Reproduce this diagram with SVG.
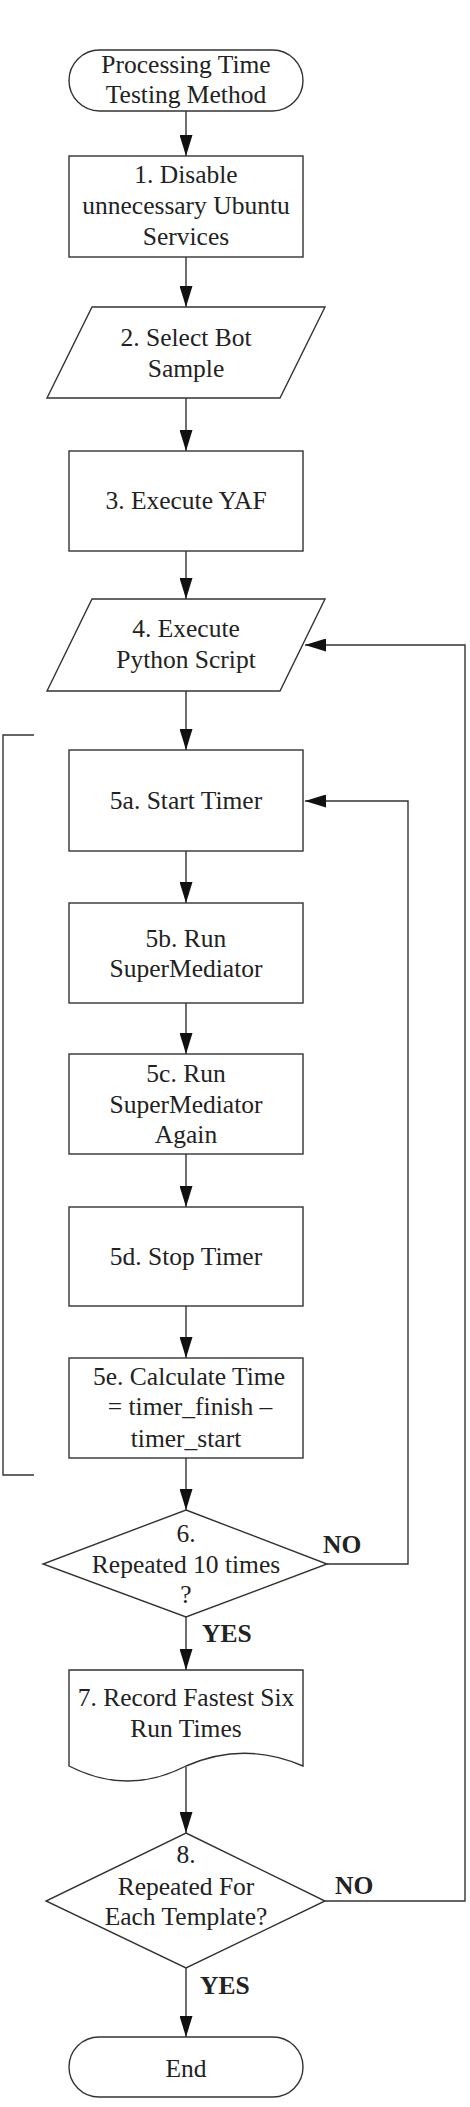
<svg xmlns="http://www.w3.org/2000/svg" width="470" height="2107" viewBox="0 0 470 2107">
  <style>
    .shape { fill: #fff; stroke: #333; stroke-width: 1.4; }
    .line { fill: none; stroke: #333; stroke-width: 1.4; }
    .lbl { font-family: "Liberation Serif", "Times New Roman", serif; font-size: 25.5px; fill: #222; text-anchor: middle; }
    .tag { font-family: "Liberation Serif", "Times New Roman", serif; font-size: 25.5px; font-weight: bold; fill: #222; }
  </style>
  <defs>
    <marker id="arrow" viewBox="0 0 21 13" refX="21" refY="6.5" markerWidth="21" markerHeight="13" markerUnits="userSpaceOnUse" orient="auto">
      <path d="M0,0 L21,6.5 L0,13 Z" fill="#111"/>
    </marker>
  </defs>
  <rect width="470" height="2107" fill="#fff"/>

  <!-- connectors -->
  <g id="connectors">
    <line class="line" x1="186" y1="111" x2="186" y2="156" marker-end="url(#arrow)"/>
    <line class="line" x1="186" y1="257" x2="186" y2="307" marker-end="url(#arrow)"/>
    <line class="line" x1="186" y1="398" x2="186" y2="451" marker-end="url(#arrow)"/>
    <line class="line" x1="186" y1="551" x2="186" y2="599" marker-end="url(#arrow)"/>
    <line class="line" x1="186" y1="691" x2="186" y2="750" marker-end="url(#arrow)"/>
    <line class="line" x1="186" y1="851" x2="186" y2="903" marker-end="url(#arrow)"/>
    <line class="line" x1="186" y1="1003" x2="186" y2="1054" marker-end="url(#arrow)"/>
    <line class="line" x1="186" y1="1154" x2="186" y2="1207" marker-end="url(#arrow)"/>
    <line class="line" x1="186" y1="1306" x2="186" y2="1358" marker-end="url(#arrow)"/>
    <line class="line" x1="186" y1="1458" x2="186" y2="1510" marker-end="url(#arrow)"/>
    <line class="line" x1="186" y1="1617" x2="186" y2="1670" marker-end="url(#arrow)"/>
    <line class="line" x1="186" y1="1767" x2="186" y2="1833" marker-end="url(#arrow)"/>
    <line class="line" x1="186" y1="1968" x2="186" y2="2037" marker-end="url(#arrow)"/>
    <!-- inner loop: 6 NO back to 5a -->
    <polyline class="line" points="327,1564 408,1564 408,801 305,801" marker-end="url(#arrow)"/>
    <!-- outer loop: 8 NO back to 4 -->
    <polyline class="line" points="325,1901 465,1901 465,645 305,645" marker-end="url(#arrow)"/>
    <!-- bracket around step 5 -->
    <polyline class="line" points="34,735 3,735 3,1475 34,1475"/>
  </g>

  <g id="start">
    <rect class="shape" x="69" y="50" width="234" height="61" rx="30.5"/>
    <text class="lbl" x="186" y="73">Processing Time</text>
    <text class="lbl" x="186" y="103">Testing Method</text>
  </g>

  <g id="step1">
    <rect class="shape" x="69" y="156" width="234" height="101"/>
    <text class="lbl" x="186" y="183">1. Disable</text>
    <text class="lbl" x="186" y="214">unnecessary Ubuntu</text>
    <text class="lbl" x="186" y="245">Services</text>
  </g>

  <g id="step2">
    <polygon class="shape" points="92,307 325,307 280,398 47,398"/>
    <text class="lbl" x="186" y="346">2. Select Bot</text>
    <text class="lbl" x="186" y="377">Sample</text>
  </g>

  <g id="step3">
    <rect class="shape" x="69" y="451" width="234" height="100"/>
    <text class="lbl" x="186" y="509">3. Execute YAF</text>
  </g>

  <g id="step4">
    <polygon class="shape" points="92,599 325,599 280,691 47,691"/>
    <text class="lbl" x="186" y="637">4. Execute</text>
    <text class="lbl" x="186" y="668">Python Script</text>
  </g>

  <g id="step5a">
    <rect class="shape" x="69" y="750" width="234" height="101"/>
    <text class="lbl" x="186" y="809">5a. Start Timer</text>
  </g>

  <g id="step5b">
    <rect class="shape" x="69" y="903" width="234" height="100"/>
    <text class="lbl" x="186" y="947">5b. Run</text>
    <text class="lbl" x="186" y="977">SuperMediator</text>
  </g>

  <g id="step5c">
    <rect class="shape" x="69" y="1054" width="234" height="100"/>
    <text class="lbl" x="186" y="1082">5c. Run</text>
    <text class="lbl" x="186" y="1113">SuperMediator</text>
    <text class="lbl" x="186" y="1143">Again</text>
  </g>

  <g id="step5d">
    <rect class="shape" x="69" y="1207" width="234" height="99"/>
    <text class="lbl" x="186" y="1265">5d. Stop Timer</text>
  </g>

  <g id="step5e">
    <rect class="shape" x="69" y="1358" width="234" height="100"/>
    <text class="lbl" x="189" y="1385">5e. Calculate Time</text>
    <text class="lbl" x="190" y="1415">= timer_finish –</text>
    <text class="lbl" x="186" y="1447">timer_start</text>
  </g>

  <g id="decision6">
    <polygon class="shape" points="186,1510 327,1564 186,1617 43,1564"/>
    <text class="lbl" x="186" y="1542">6.</text>
    <text class="lbl" x="186" y="1573">Repeated 10 times</text>
    <text class="lbl" x="186" y="1603">?</text>
    <text class="tag" x="323" y="1553">NO</text>
    <text class="tag" x="202" y="1642">YES</text>
  </g>

  <g id="step7">
    <path class="shape" d="M69,1670 H303 V1766 C264,1749 225,1749 186,1766 C147,1786 108,1786 69,1766 Z"/>
    <text class="lbl" x="186" y="1706">7. Record Fastest Six</text>
    <text class="lbl" x="186" y="1737">Run Times</text>
  </g>

  <g id="decision8">
    <polygon class="shape" points="186,1833 325,1901 186,1968 46,1901"/>
    <text class="lbl" x="186" y="1863">8.</text>
    <text class="lbl" x="186" y="1895">Repeated For</text>
    <text class="lbl" x="186" y="1925">Each Template?</text>
    <text class="tag" x="335" y="1894">NO</text>
    <text class="tag" x="200" y="1994">YES</text>
  </g>

  <g id="end">
    <rect class="shape" x="69" y="2037" width="234" height="60" rx="30"/>
    <text class="lbl" x="186" y="2077">End</text>
  </g>
</svg>
